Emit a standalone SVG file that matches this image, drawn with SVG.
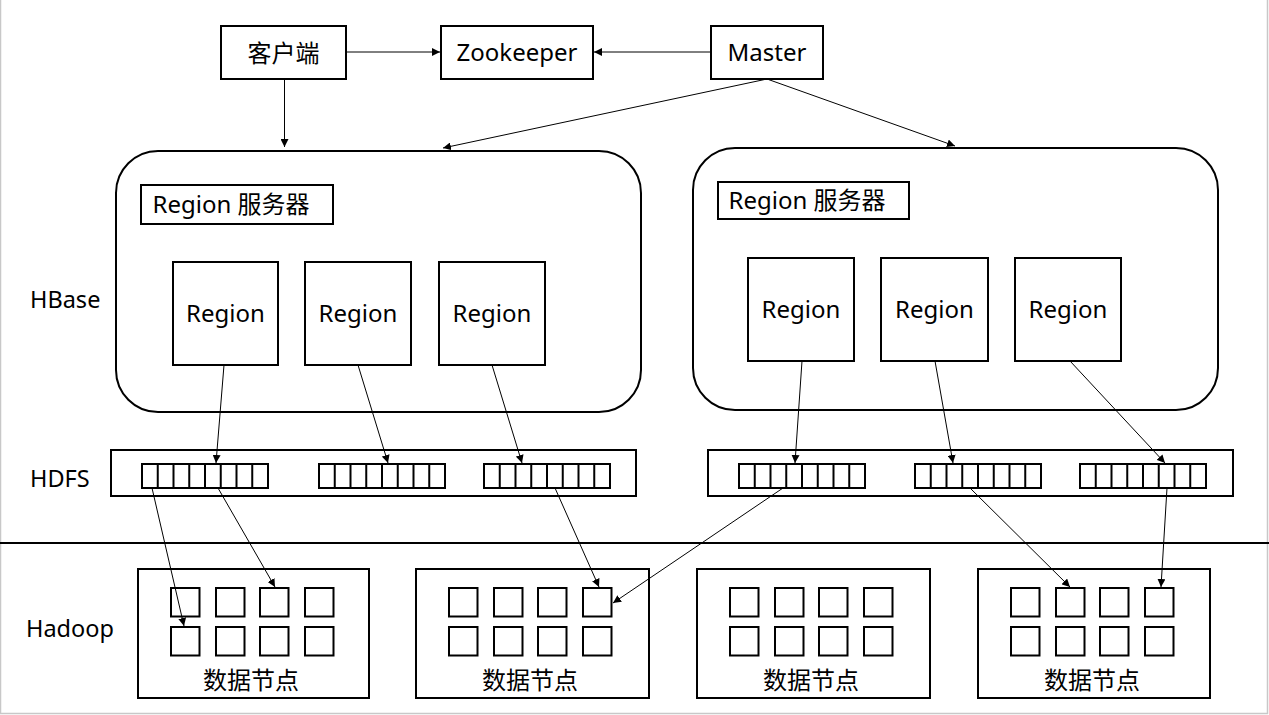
<svg xmlns="http://www.w3.org/2000/svg" width="1269" height="715" viewBox="0 0 1269 715">
<style>
.bx{fill:#fff;stroke:#000;stroke-width:2}
.sq{fill:none;stroke:#000;stroke-width:2}
.t{font-family:"Noto Sans","Noto Sans CJK SC",sans-serif;fill:#000;text-anchor:middle;font-size:24px}
.lbl{font-family:"Noto Sans","Noto Sans CJK SC",sans-serif;fill:#000;font-size:23.5px}
.c{stroke:#000;stroke-width:1;fill:none;marker-end:url(#ah)}
</style>
<defs>
<marker id="ah" viewBox="0 0 10 10" refX="10" refY="5" markerWidth="8" markerHeight="8" markerUnits="userSpaceOnUse" orient="auto">
<path d="M0,0 L10,5 L0,10 z" fill="#000"/>
</marker>
<g id="strip">
<rect x="0" y="0" width="126" height="24" class="sq"/>
<path d="M15.75,0V24M31.5,0V24M47.25,0V24M63,0V24M78.75,0V24M94.5,0V24M110.25,0V24" stroke="#000" stroke-width="2"/>
</g>
<g id="cells">
<rect x="33" y="19" width="28.5" height="28.5" class="sq"/>
<rect x="78" y="19" width="28.5" height="28.5" class="sq"/>
<rect x="122" y="19" width="28.5" height="28.5" class="sq"/>
<rect x="167" y="19" width="28.5" height="28.5" class="sq"/>
<rect x="33" y="58" width="28.5" height="28.5" class="sq"/>
<rect x="78" y="58" width="28.5" height="28.5" class="sq"/>
<rect x="122" y="58" width="28.5" height="28.5" class="sq"/>
<rect x="167" y="58" width="28.5" height="28.5" class="sq"/>
</g>
</defs>
<rect width="1269" height="715" fill="#fff"/>
<path d="M0.5,0V713.5H1267.5V0" fill="none" stroke="#c8c8c8" stroke-width="1.5"/>
<line x1="0" y1="543" x2="1269" y2="543" stroke="#000" stroke-width="2"/>

<g id="labels">
<text class="lbl" x="30" y="308">HBase</text>
<text class="lbl" x="30" y="487">HDFS</text>
<text class="lbl" x="26" y="637">Hadoop</text>
</g>

<g id="client"><rect class="bx" x="221" y="26" width="125" height="53"/><text class="t" x="283.5" y="62">客户端</text></g>
<g id="zookeeper"><rect class="bx" x="441" y="26" width="152" height="53"/><text class="t" x="517" y="61">Zookeeper</text></g>
<g id="master"><rect class="bx" x="711" y="26" width="112" height="53"/><text class="t" x="767" y="61">Master</text></g>

<g id="server-left">
<rect class="bx" x="116" y="151" width="525" height="261" rx="42"/>
<rect class="bx" x="141" y="185" width="192" height="39"/>
<text class="t" x="231" y="213">Region 服务器</text>
</g>
<g id="region-l1"><rect class="bx" x="173" y="262" width="105" height="103"/><text class="t" x="225.5" y="322">Region</text></g>
<g id="region-l2"><rect class="bx" x="305" y="262" width="106" height="103"/><text class="t" x="358" y="322">Region</text></g>
<g id="region-l3"><rect class="bx" x="439" y="262" width="106" height="103"/><text class="t" x="492" y="322">Region</text></g>

<g id="server-right">
<rect class="bx" x="693" y="148" width="525" height="262" rx="42"/>
<rect class="bx" x="718" y="182" width="191" height="37"/>
<text class="t" x="807" y="209">Region 服务器</text>
</g>
<g id="region-r1"><rect class="bx" x="748" y="258" width="106" height="103"/><text class="t" x="801" y="318">Region</text></g>
<g id="region-r2"><rect class="bx" x="881" y="258" width="107" height="103"/><text class="t" x="934.5" y="318">Region</text></g>
<g id="region-r3"><rect class="bx" x="1015" y="258" width="106" height="103"/><text class="t" x="1068" y="318">Region</text></g>

<g id="hdfs-left">
<rect class="bx" x="111" y="450" width="525" height="46"/>
<use href="#strip" x="142" y="464"/>
<use href="#strip" x="319" y="464"/>
<use href="#strip" x="484" y="464"/>
</g>
<g id="hdfs-right">
<rect class="bx" x="708" y="450" width="525" height="46"/>
<use href="#strip" x="739" y="464"/>
<use href="#strip" x="915" y="464"/>
<use href="#strip" x="1080" y="464"/>
</g>

<g id="datanode-1"><rect class="bx" x="138" y="569" width="231" height="129"/><use href="#cells" x="138" y="569"/><text class="t" x="251" y="689">数据节点</text></g>
<g id="datanode-2"><rect class="bx" x="416" y="569" width="233" height="129"/><use href="#cells" x="416" y="569"/><text class="t" x="530" y="689">数据节点</text></g>
<g id="datanode-3"><rect class="bx" x="697" y="569" width="233" height="129"/><use href="#cells" x="697" y="569"/><text class="t" x="811" y="689">数据节点</text></g>
<g id="datanode-4"><rect class="bx" x="978" y="569" width="232" height="129"/><use href="#cells" x="978" y="569"/><text class="t" x="1092" y="689">数据节点</text></g>

<g id="connectors">
<line class="c" x1="346" y1="52" x2="440" y2="52"/>
<line class="c" x1="711" y1="52" x2="594" y2="52"/>
<line class="c" x1="284.5" y1="79" x2="284.5" y2="147"/>
<line class="c" x1="767" y1="79" x2="443" y2="148"/>
<line class="c" x1="767" y1="79" x2="955" y2="146"/>
<line class="c" x1="224" y1="365" x2="216" y2="463"/>
<line class="c" x1="358" y1="365" x2="388" y2="463"/>
<line class="c" x1="492" y1="365" x2="522" y2="463"/>
<line class="c" x1="802" y1="361" x2="795" y2="463"/>
<line class="c" x1="935" y1="361" x2="953" y2="463"/>
<line class="c" x1="1070" y1="361" x2="1165" y2="463"/>
<line class="c" x1="152" y1="488" x2="184" y2="626"/>
<line class="c" x1="218" y1="488" x2="275" y2="587"/>
<line class="c" x1="555" y1="488" x2="599" y2="587"/>
<line class="c" x1="783" y1="488" x2="613" y2="603"/>
<line class="c" x1="970" y1="488" x2="1070" y2="587"/>
<line class="c" x1="1167" y1="488" x2="1161" y2="587"/>
</g>
</svg>
